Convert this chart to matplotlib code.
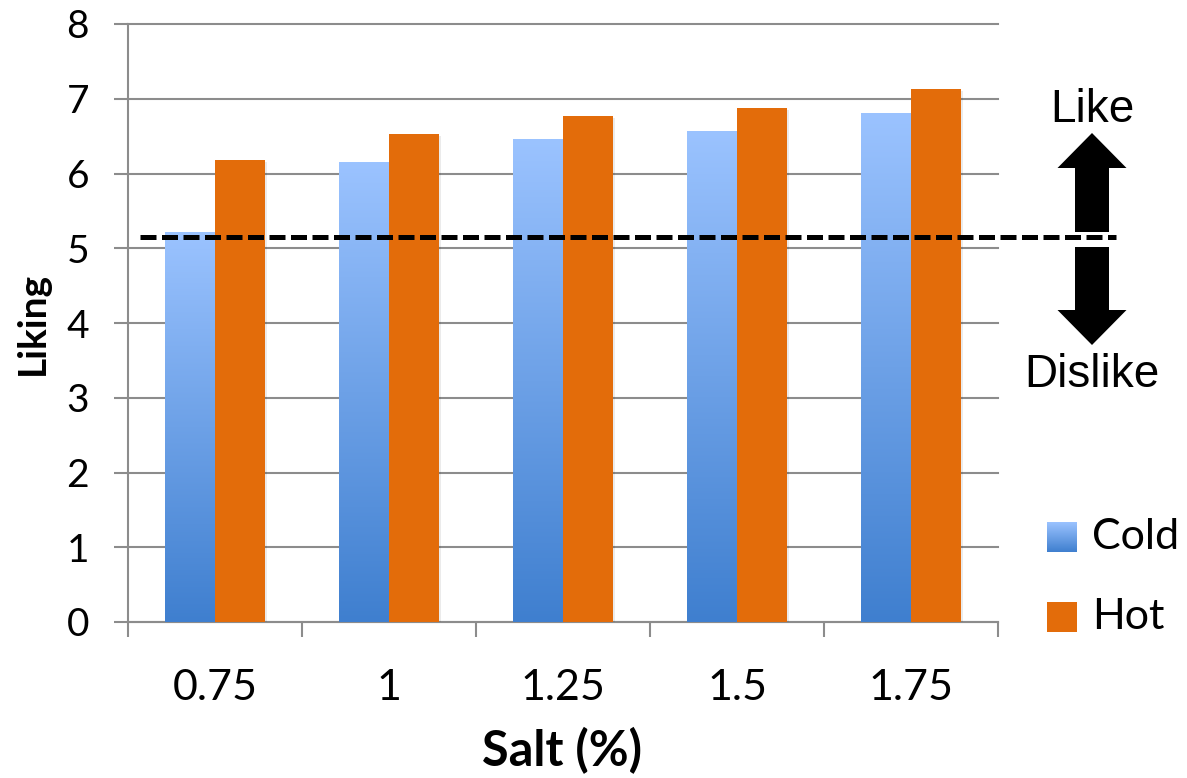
import numpy as np
import matplotlib.pyplot as plt
import matplotlib.patheffects as pe
from matplotlib.patches import Rectangle, FancyArrow
from matplotlib.colors import LinearSegmentedColormap

salt = ['0.75', '1', '1.25', '1.5', '1.75']
cold = [5.22, 6.15, 6.46, 6.57, 6.81]
hot = [6.18, 6.53, 6.77, 6.88, 7.13]
neutral = 5.15

blue_top = '#9bc3ff'
blue_bottom = '#3f7fcf'
orange = '#e36c0a'
grid_gray = '#8c8c8c'

plt.rcParams['font.family'] = ['Lato', 'DejaVu Sans']

W, H = 1187, 778
fig = plt.figure(figsize=(W / 100, H / 100), dpi=100)
ax = fig.add_axes([128 / W, 1 - 622 / H, 870 / W, 598 / H])

x = np.arange(len(salt))
w = 0.287
shadow = [pe.SimplePatchShadow(offset=(1.5, -1.5), shadow_rgbFace='k', alpha=0.08), pe.Normal()]
cold_bars = ax.bar(x - w / 2, cold, w, color='none', zorder=3, path_effects=shadow)
hot_bars = ax.bar(x + w / 2, hot, w, color=orange, zorder=3, path_effects=shadow)

# vertical gradient fill for the cold bars
blues = LinearSegmentedColormap.from_list('blues', [blue_bottom, blue_top])
grad = np.linspace(0, 1, 256).reshape(-1, 1)
for bar in cold_bars:
    x0 = bar.get_x()
    im = ax.imshow(grad, cmap=blues, origin='lower', aspect='auto', zorder=3.5,
                   extent=[x0, x0 + bar.get_width(), 0, bar.get_height()])
    im.set_clip_path(bar)

ax.set_xlim(-0.5, len(salt) - 0.5)
ax.set_ylim(0, 8)

# neutral line, runs out past the plot to the arrows
ax.plot([-0.43, 5.18], [neutral, neutral], color='k', lw=3.6, clip_on=False,
        dashes=(3.2, 1.1), dash_capstyle='butt', zorder=4)

ax.set_yticks(range(9))
ax.yaxis.grid(True, color=grid_gray, lw=1.5, clip_on=False)
ax.set_axisbelow(True)
for s in ['top', 'right']:
    ax.spines[s].set_visible(False)
for s in ['left', 'bottom']:
    ax.spines[s].set_color(grid_gray)
    ax.spines[s].set_linewidth(1.5)

ax.set_xticks(x)
ax.set_xticklabels(salt)
ax.set_xticks(np.arange(len(salt) + 1) - 0.5, minor=True)
ax.tick_params(axis='x', which='major', length=0, labelsize=31, pad=34)
ax.tick_params(axis='x', which='minor', length=11, width=1.5, color=grid_gray)
ax.tick_params(axis='y', length=10, width=1.5, color=grid_gray, labelsize=28, pad=18)

ax.set_ylabel('Liking', fontsize=28, fontweight='bold')
ax.yaxis.set_label_coords(-0.09, 0.5)
ax.set_xlabel('Salt (%)', fontsize=35, fontweight='bold')
ax.xaxis.set_label_coords(0.499, -0.175)

# overlay in pixel coordinates for the arrows and legend
ov = fig.add_axes([0, 0, 1, 1], zorder=5)
ov.set_xlim(0, W)
ov.set_ylim(H, 0)
ov.axis('off')
ov.patch.set_alpha(0)

cx = 1092
ov.add_patch(FancyArrow(cx, 232, 0, -99, width=34, head_width=69, head_length=35,
                        length_includes_head=True, color='k', lw=0))
ov.add_patch(FancyArrow(cx, 247, 0, 98, width=34, head_width=69, head_length=35,
                        length_includes_head=True, color='k', lw=0))
ov.text(cx, 110, 'Like', fontsize=33, family='Liberation Sans', ha='center', va='center')
ov.text(cx, 375, 'Dislike', fontsize=33, family='Liberation Sans', ha='center', va='center')

# legend
sq = 30
leg_x = 1047
cold_ax = fig.add_axes([leg_x / W, 1 - 552 / H, sq / W, sq / H], zorder=6)
cold_ax.imshow(grad, cmap=blues, origin='lower', aspect='auto')
cold_ax.axis('off')
ov.add_patch(Rectangle((leg_x, 602), sq, sq, color=orange, lw=0))
ov.text(1092, 537, 'Cold', fontsize=31, ha='left', va='center')
ov.text(1092, 617, 'Hot', fontsize=31, ha='left', va='center')

fig.savefig('out.png', dpi=100)
